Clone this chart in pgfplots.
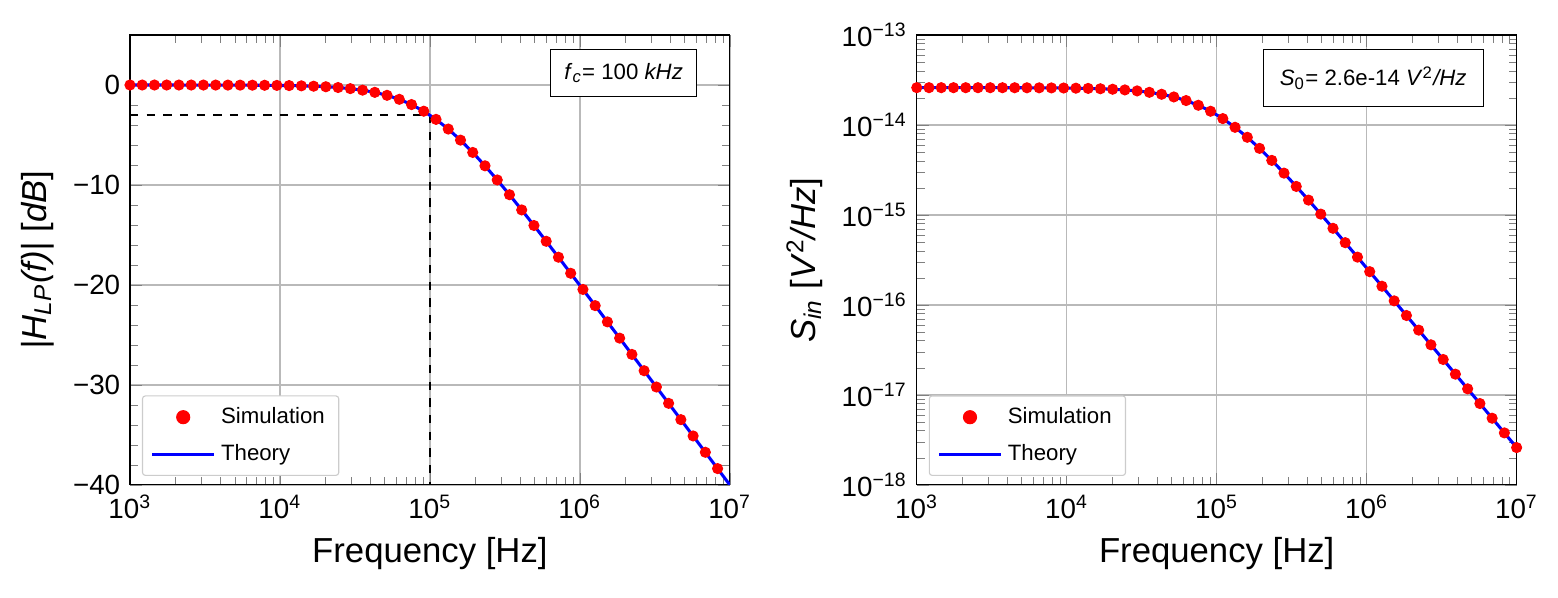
\documentclass[border=0pt]{standalone}
\usepackage{fontspec}
\setmainfont{Liberation Sans}
\usepackage{pgfplots}
\pgfplotsset{compat=1.18}
\pgfplotstableread{
f H S
1000 -0.00043 2.59974e-14
1206.8 -0.00063 2.59962e-14
1456.3 -0.00092 2.59945e-14
1757.5 -0.00134 2.59920e-14
2120.9 -0.00195 2.59883e-14
2559.5 -0.00284 2.59830e-14
3088.8 -0.00414 2.59752e-14
3727.6 -0.00603 2.59639e-14
4498.4 -0.00878 2.59475e-14
5428.7 -0.01278 2.59236e-14
6551.3 -0.01860 2.58889e-14
7906.0 -0.02706 2.58385e-14
9540.9 -0.03935 2.57655e-14
11514 -0.0572 2.56598e-14
13895 -0.0830 2.55075e-14
16768 -0.1204 2.52889e-14
20236 -0.1743 2.49772e-14
24421 -0.2516 2.45367e-14
29471 -0.3617 2.39223e-14
35565 -0.5173 2.30806e-14
42919 -0.7343 2.19556e-14
51795 -1.0321 2.05004e-14
62506 -1.4323 1.86958e-14
75431 -1.9562 1.65713e-14
91030 -2.6213 1.42182e-14
1.0985e5 -3.4376 1.17818e-14
1.3257e5 -4.4052 9.4287e-15
1.5999e5 -5.5139 7.3042e-15
1.9307e5 -6.7464 5.4996e-15
2.3300e5 -8.0812 4.0444e-15
2.8118e5 -9.4969 2.9194e-15
3.3932e5 -10.9739 2.0777e-15
4.0949e5 -12.4965 1.4633e-15
4.9417e5 -14.0519 1.0228e-15
5.9636e5 -15.6306 7.111e-16
7.1969e5 -17.2259 4.925e-16
8.6851e5 -18.8327 3.402e-16
1.0481e6 -20.4476 2.345e-16
1.2649e6 -22.0679 1.6152e-16
1.5264e6 -23.6921 1.1111e-16
1.8421e6 -25.3189 7.6397e-17
2.2230e6 -26.9476 5.2508e-17
2.6827e6 -28.5774 3.6077e-17
3.2375e6 -30.2082 2.4783e-17
3.9069e6 -31.8395 1.7022e-17
4.7149e6 -33.4714 1.1690e-17
5.6899e6 -35.1033 8.029e-18
6.8665e6 -36.7356 5.514e-18
8.2864e6 -38.3679 3.788e-18
1.0000e7 -40.0004 2.600e-18
}\data
\begin{document}
\begin{tikzpicture}
\useasboundingbox (0,0) rectangle (561pt,215.3pt);
\begin{axis}[at={(46.8pt,40.7pt)}, anchor=south west,
    scale only axis, width=216pt, height=162pt,
    xmode=log, xmin=1e3, xmax=1e7,
    xtick={1e3,1e4,1e5,1e6,1e7},
    xticklabels={10\textsuperscript{3},10\textsuperscript{4},10\textsuperscript{5},10\textsuperscript{6},10\textsuperscript{7}},
    tick align=inside, xtick pos=both, ytick pos=both,
    grid=major, major grid style={gray!55, line width=0.5pt},
    tick label style={font=\fontsize{10}{12}\selectfont},
    label style={font=\fontsize{12.5}{14}\selectfont},
    xlabel={Frequency [Hz]},
    legend style={at={(0.02,0.02)}, anchor=south west, font=\fontsize{8}{10}\selectfont, draw=gray!40, rounded corners=1pt, row sep=2pt},
    legend cell align=left, legend image post style={scale=1.3},
  ymin=-40, ymax=5, ytick={-40,-30,-20,-10,0},
  yticklabels={−40,−30,−20,−10,0}, minor y tick num=4,
  ylabel={\textit{|H}\textsubscript{\textit{LP}}\textit{(f)|} [\textit{dB}]}]
\draw[dashed, line width=0.6pt] (axis cs:1e3,-3.01) -- (axis cs:1e5,-3.01) -- (axis cs:1e5,-40);
\addplot[only marks, mark=*, red, mark size=1.8pt] table[x=f,y=H]{\data};
\addlegendentry{Simulation}
\addplot[blue, line width=1.1pt, no marks] table[x=f,y=H]{\data};
\addlegendentry{Theory}
\node[draw, fill=white, font=\fontsize{8}{10}\selectfont, inner sep=5pt] at (axis description cs:0.823,0.916) {\textit{f}\textsubscript{\textit{c}}= 100 \textit{kHz}};
\end{axis}
\begin{axis}[at={(330.1pt,40.7pt)}, anchor=south west,
    scale only axis, width=216pt, height=162pt,
    xmode=log, xmin=1e3, xmax=1e7,
    xtick={1e3,1e4,1e5,1e6,1e7},
    xticklabels={10\textsuperscript{3},10\textsuperscript{4},10\textsuperscript{5},10\textsuperscript{6},10\textsuperscript{7}},
    tick align=inside, xtick pos=both, ytick pos=both,
    grid=major, major grid style={gray!55, line width=0.5pt},
    tick label style={font=\fontsize{10}{12}\selectfont},
    label style={font=\fontsize{12.5}{14}\selectfont},
    xlabel={Frequency [Hz]},
    legend style={at={(0.02,0.02)}, anchor=south west, font=\fontsize{8}{10}\selectfont, draw=gray!40, rounded corners=1pt, row sep=2pt},
    legend cell align=left, legend image post style={scale=1.3},
  ymode=log, ymin=1e-18, ymax=1e-13,
  ytick={1e-18,1e-17,1e-16,1e-15,1e-14,1e-13},
  yticklabels={10\textsuperscript{−18},10\textsuperscript{−17},10\textsuperscript{−16},10\textsuperscript{−15},10\textsuperscript{−14},10\textsuperscript{−13}},
  ylabel={\textit{S}\textsubscript{\textit{in}} [\textit{V}\textsuperscript{2}\textit{/Hz}]}]
\addplot[only marks, mark=*, red, mark size=1.8pt] table[x=f,y=S]{\data};
\addlegendentry{Simulation}
\addplot[blue, line width=1.1pt, no marks] table[x=f,y=S]{\data};
\addlegendentry{Theory}
\node[draw, fill=white, font=\fontsize{8}{10}\selectfont, inner sep=6pt] at (axis description cs:0.761,0.904) {\textit{S}\textsubscript{0}= 2.6e-14 \textit{V}\textsuperscript{2}\textit{/Hz}};
\end{axis}
\end{tikzpicture}
\end{document}
